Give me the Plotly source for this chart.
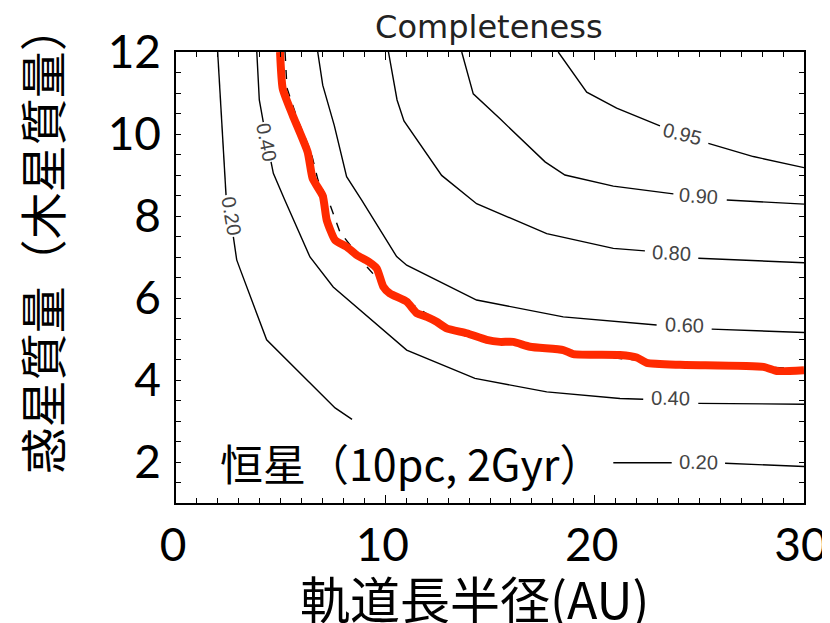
import plotly.graph_objects as go

# ---- data (x: semi-major axis AU, y: planet mass MJ) ----
N = None
c020_x = [1.99, 2.39, N, 2.74, 2.90, 3.08, 3.44, 4.33, 7.60, 8.41, N, 20.89, 23.68, N, 26.23, 30.0]
c020_y = [12.0, 8.51, N, 7.49, 6.93, 6.68, 6.20, 4.98, 3.32, 3.04, N, 1.98, 1.98, N, 1.97, 1.89]

c040_x = [3.86, 3.98, 4.17, N, 4.54, 4.65, 5.17, 6.40, 7.51, 11.02, 14.28, 17.71, 21.21, 22.32, N, 24.95, 30.0]
c040_y = [12.0, 10.83, 10.29, N, 9.32, 9.04, 8.42, 7.00, 6.27, 4.73, 4.04, 3.71, 3.55, 3.53, N, 3.43, 3.41]

c060_x = [6.77, 7.01, 7.56, 8.15, 8.87, 10.54, 11.02, 14.36, 18.50, 22.96, N, 25.59, 30.0]
c060_y = [12.0, 11.19, 10.21, 8.96, 8.39, 7.01, 6.80, 5.95, 5.54, 5.34, N, 5.24, 5.16]

c080_x = [10.15, 10.56, 10.89, 12.69, 14.36, 17.71, 20.89, 22.40, N, 24.95, 30.0]
c080_y = [12.0, 10.83, 10.32, 8.99, 8.30, 7.57, 7.21, 7.15, N, 6.97, 6.86]

c090_x = [13.65, 14.20, 15.48, 17.63, 18.58, 20.89, 23.76, N, 26.31, 30.0]
c090_y = [12.0, 10.98, 10.37, 9.32, 9.00, 8.73, 8.54, N, 8.39, 8.29]

c095_x = [18.26, 19.62, 21.05, 23.12, N, 25.43, 27.58, 30.0]
c095_y = [12.0, 11.02, 10.63, 10.20, N, 9.77, 9.45, 9.18]

c050_x = [5.21, 5.30, 5.78, 6.45, 6.78, 7.36, 7.83, 8.41, 9.17, 9.98, 11.18, 12.61, 13.57, 15.48, 18.34, 21.45, 25.03, 30.0]
c050_y = [12.0, 11.12, 10.39, 9.56, 8.88, 8.27, 7.61, 7.22, 6.73, 6.27, 5.88, 5.41, 5.22, 4.93, 4.68, 4.51, 4.39, 4.27]

limit_x = [4.97, 5.10, 5.57, 6.29, 6.53, 7.01, 7.20, 7.60, 8.15, 8.63, 9.19, 9.59, 9.90, 10.22,
           11.02, 11.50, 11.98, 12.45, 12.93, 13.89, 14.84, 15.48, 16.11, 16.91, 18.50, 18.98,
           21.21, 22.01, 22.49, 24.08, 28.06, 28.70, 30.0]
limit_y = [12.0, 11.10, 10.46, 9.56, 8.91, 8.49, 7.90, 7.41, 7.25, 7.05, 6.89, 6.72, 6.28, 6.11,
           5.91, 5.63, 5.54, 5.42, 5.26, 5.14, 4.98, 4.93, 4.93, 4.81, 4.73, 4.63,
           4.61, 4.55, 4.42, 4.37, 4.32, 4.22, 4.24]

label_text = ["0.20", "0.40", "0.95", "0.90", "0.80", "0.60", "0.40", "0.20"]
label_x = [2.65, 4.32, 24.20, 24.96, 23.65, 24.27, 23.63, 24.94]
label_y = [8.00, 9.80, 10.01, 8.49, 7.09, 5.34, 3.55, 1.99]
label_angle = [80, 79, 14, 4, 3, 2, 1, 1]

x_ticks = [0, 10, 20, 30]
y_ticks = [2, 4, 6, 8, 10, 12]

fig = go.Figure()
line_style = dict(color="black", width=1.4)
for xs, ys in [(c020_x, c020_y), (c040_x, c040_y), (c060_x, c060_y),
               (c080_x, c080_y), (c090_x, c090_y), (c095_x, c095_y)]:
    fig.add_trace(go.Scatter(x=xs, y=ys, mode="lines", line=line_style,
                             connectgaps=False, hoverinfo="skip", showlegend=False))
fig.add_trace(go.Scatter(x=c050_x, y=c050_y, mode="lines",
                         line=dict(color="black", width=1.4, dash="dash"),
                         hoverinfo="skip", showlegend=False))
fig.add_trace(go.Scatter(x=limit_x, y=limit_y, mode="lines",
                         line=dict(color="#ff2a00", width=8, shape="spline", smoothing=0.5),
                         hoverinfo="skip", showlegend=False))

for t, lx, ly, a in zip(label_text, label_x, label_y, label_angle):
    fig.add_annotation(x=lx, y=ly, xref="x", yref="y", text=t, showarrow=False,
                       textangle=a, font=dict(family="Liberation Sans", size=20, color="#444"))

fig.add_annotation(xref="paper", yref="paper", x=0.375, y=0.091, xanchor="center", yanchor="middle",
                   text="恒星（10pc, 2Gyr）", showarrow=False,
                   font=dict(family="Noto Sans CJK JP", size=43, color="black"))
fig.add_annotation(xref="paper", yref="paper", x=0.476, y=-0.208, xanchor="center", yanchor="middle",
                   text="軌道長半径(AU)", showarrow=False,
                   font=dict(family="Noto Sans CJK JP", size=50, color="black"))
fig.add_annotation(xref="paper", yref="paper", x=-0.2166, y=0.585, xanchor="center", yanchor="middle",
                   text="惑星質量（木星質量）", textangle=-90, showarrow=False,
                   font=dict(family="Noto Sans CJK JP", size=47, color="black"))

# page body adds an 8px offset; the figure is sized to compensate
fig.update_layout(
    width=822, height=615,
    margin=dict(l=168, r=26, t=44, b=120),
    paper_bgcolor="white", plot_bgcolor="white",
    title=dict(text="Completeness", x=0.585, xanchor="center", y=0.969, yanchor="middle",
               font=dict(family="DejaVu Sans ExtraLight, DejaVu Sans", size=32, color="#222")),
    showlegend=False,
)
fig.update_xaxes(range=[0, 30], tickvals=x_ticks, ticktext=[str(v) for v in x_ticks],
                 ticks="inside", ticklen=8, tickwidth=1.3, tickcolor="black",
                 minor=dict(dtick=1, ticks="inside", ticklen=5, tickwidth=1.3, tickcolor="black"),
                 showline=True, linecolor="black", linewidth=1.5, mirror="ticks",
                 showgrid=False, zeroline=False, ticklabelstandoff=1, automargin=False,
                 ticklabeloverflow="allow", ticklabelshift=-3,
                 tickfont=dict(family="Lato", size=46, color="black"))
fig.update_yaxes(range=[1, 12], tickvals=y_ticks, ticktext=[str(v) for v in y_ticks],
                 ticks="inside", ticklen=5, tickwidth=1.3, tickcolor="black",
                 minor=dict(dtick=0.5, ticks="inside", ticklen=5, tickwidth=1.3, tickcolor="black"),
                 showline=True, linecolor="black", linewidth=1.5, mirror="ticks",
                 showgrid=False, zeroline=False, ticklabelstandoff=4, automargin=False,
                 tickfont=dict(family="Lato", size=46, color="black"))

fig.write_html("out.html")
